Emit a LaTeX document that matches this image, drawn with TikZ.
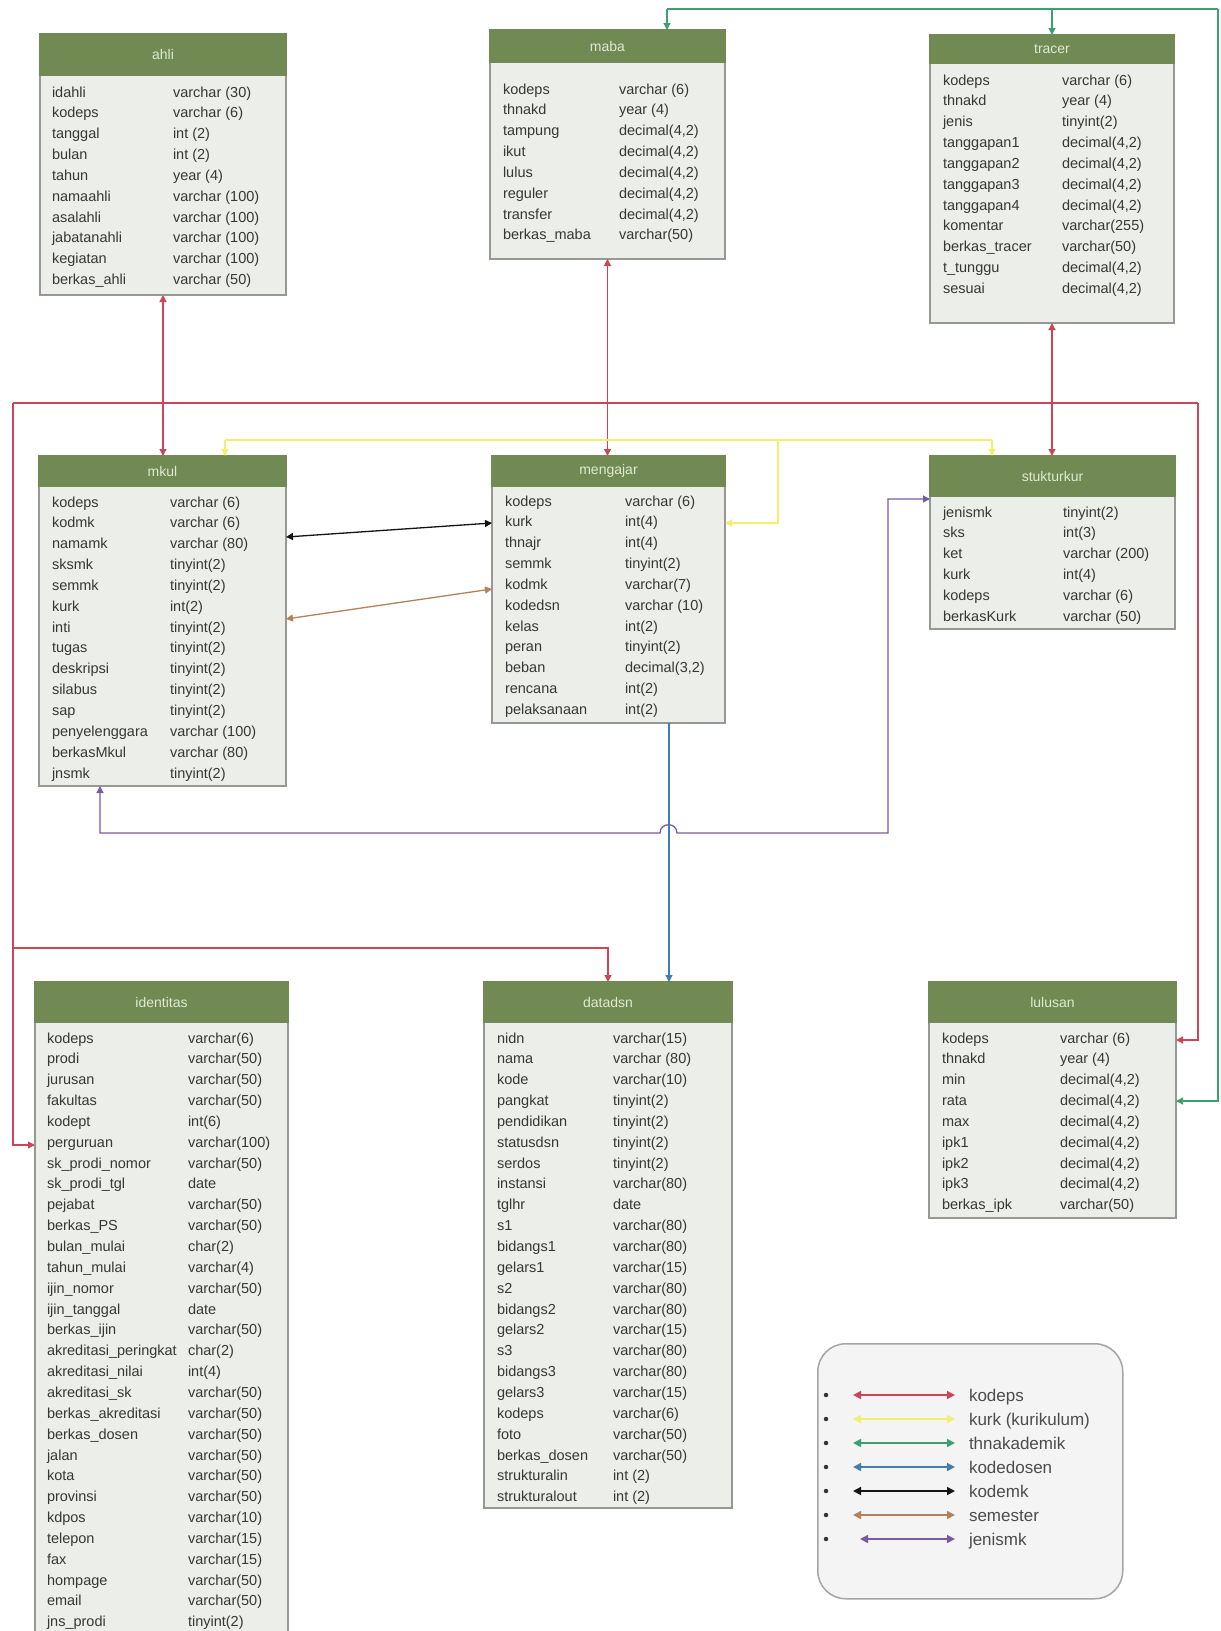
\documentclass[tikz,border=0pt]{standalone}
\usepackage{fontspec}
\setmainfont{Liberation Sans}
\usetikzlibrary{arrows.meta,calc}
\definecolor{hdr}{RGB}{113,137,83}
\definecolor{hdrtext}{RGB}{222,234,210}
\definecolor{tblfill}{RGB}{236,238,234}
\definecolor{tblborder}{RGB}{150,152,148}
\definecolor{fldtext}{RGB}{55,55,55}
\definecolor{cRed}{RGB}{205,70,85}
\definecolor{cYel}{RGB}{242,238,110}
\definecolor{cGrn}{RGB}{60,160,115}
\definecolor{cBlu}{RGB}{65,125,175}
\definecolor{cBlk}{RGB}{20,20,20}
\definecolor{cBrn}{RGB}{180,130,90}
\definecolor{cPur}{RGB}{120,90,165}
\definecolor{legfill}{RGB}{244,244,244}
\definecolor{legline}{RGB}{165,165,165}
\tikzset{
  tblbody/.style={draw=tblborder, fill=tblfill, line width=1.2pt, inner sep=0pt, outer sep=0pt},
  tblhead/.style={fill=hdr, draw=hdr, line width=1.2pt, text=hdrtext, inner sep=0pt, outer sep=0pt, font=\fontsize{14}{16}\selectfont},
  fld/.style={inner sep=0pt, outer sep=0pt, text=fldtext, font=\fontsize{14.5}{17}\selectfont},
  conn/.style={line width=1.3pt, >={Triangle[length=7pt,width=7pt]}},
  legarrow/.style={line width=1.6pt, {Triangle[length=8pt,width=8pt]}-{Triangle[length=8pt,width=8pt]}},
  legtxt/.style={inner sep=0pt, outer sep=0pt, text=black!70, font=\fontsize{17}{20}\selectfont},
}
% #1 name, #2 x, #3 y, #4 width, #5 header height, #6 total height, #7 title
\newcommand\erTable[7]{%
  \node[tblbody, minimum width=#4pt, minimum height=#6pt, anchor=north west] (#1) at (#2,#3) {};
  \node[tblhead, minimum width=#4pt, minimum height=#5pt, anchor=north west] (#1-h) at (#2,#3) {#7};
}
% #1 name, #2 name x, #3 first baseline y, #4 type x, #5 list
\newcommand\erRows[5]{%
  \foreach \a/\b [count=\i] in {#5} {
    \node[fld, anchor=base west] (#1-n\i) at ({#2},{#3+(\i-1)*20.85}) {\a};
    \node[fld, anchor=base west] (#1-t\i) at ({#4},{#3+(\i-1)*20.85}) {\b};
  }%
}
\begin{document}
\begin{tikzpicture}[x=1pt, y=-1pt]
\useasboundingbox[fill=white] (0,0) rectangle (1221,1631);

% ---------- tables ----------
\erTable{ahli}{40}{34}{246}{41}{261}{ahli}
\erRows{ahli}{52}{97}{173}{idahli/varchar (30), kodeps/varchar (6), tanggal/int (2), bulan/int (2), tahun/year (4), namaahli/varchar (100), asalahli/varchar (100), jabatanahli/varchar (100), kegiatan/varchar (100), berkas\_ahli/varchar (50)}

\erTable{maba}{490}{30}{235}{32}{229}{maba}
\erRows{maba}{503}{94}{619}{kodeps/varchar (6), thnakd/year (4), tampung/{decimal(4,2)}, ikut/{decimal(4,2)}, lulus/{decimal(4,2)}, reguler/{decimal(4,2)}, transfer/{decimal(4,2)}, berkas\_maba/varchar(50)}

\erTable{tracer}{930}{35}{244}{28}{288}{tracer}
\erRows{tracer}{943}{85}{1062}{kodeps/varchar (6), thnakd/year (4), jenis/tinyint(2), tanggapan1/{decimal(4,2)}, tanggapan2/{decimal(4,2)}, tanggapan3/{decimal(4,2)}, tanggapan4/{decimal(4,2)}, komentar/varchar(255), berkas\_tracer/varchar(50), t\_tunggu/{decimal(4,2)}, sesuai/{decimal(4,2)}}

\erTable{mkul}{39}{456}{247}{30}{330}{mkul}
\erRows{mkul}{52}{507}{170}{kodeps/varchar (6), kodmk/varchar (6), namamk/varchar (80), sksmk/tinyint(2), semmk/tinyint(2), kurk/int(2), inti/tinyint(2), tugas/tinyint(2), deskripsi/tinyint(2), silabus/tinyint(2), sap/tinyint(2), penyelenggara/varchar (100), berkasMkul/varchar (80), jnsmk/tinyint(2)}

\erTable{mengajar}{492}{456}{233}{30}{267}{mengajar}
\erRows{mengajar}{505}{506}{625}{kodeps/varchar (6), kurk/int(4), thnajr/int(4), semmk/tinyint(2), kodmk/varchar(7), kodedsn/varchar (10), kelas/int(2), peran/tinyint(2), beban/{decimal(3,2)}, rencana/int(2), pelaksanaan/int(2)}

\erTable{stuk}{930}{456}{245}{40}{173}{stukturkur}
\erRows{stuk}{943}{517}{1063}{jenismk/tinyint(2), sks/int(3), ket/varchar (200), kurk/int(4), kodeps/varchar (6), berkasKurk/varchar (50)}

\erTable{identitas}{35}{982}{253}{40}{670}{identitas}
\erRows{identitas}{47}{1043}{188}{kodeps/varchar(6), prodi/varchar(50), jurusan/varchar(50), fakultas/varchar(50), kodept/int(6), perguruan/varchar(100), sk\_prodi\_nomor/varchar(50), sk\_prodi\_tgl/date, pejabat/varchar(50), berkas\_PS/varchar(50), bulan\_mulai/char(2), tahun\_mulai/varchar(4), ijin\_nomor/varchar(50), ijin\_tanggal/date, berkas\_ijin/varchar(50), akreditasi\_peringkat/char(2), akreditasi\_nilai/int(4), akreditasi\_sk/varchar(50), berkas\_akreditasi/varchar(50), berkas\_dosen/varchar(50), jalan/varchar(50), kota/varchar(50), provinsi/varchar(50), kdpos/varchar(10), telepon/varchar(15), fax/varchar(15), hompage/varchar(50), email/varchar(50), jns\_prodi/tinyint(2)}

\erTable{datadsn}{484}{982}{248}{40}{526}{datadsn}
\erRows{datadsn}{497}{1043}{613}{nidn/varchar(15), nama/varchar (80), kode/varchar(10), pangkat/tinyint(2), pendidikan/tinyint(2), statusdsn/tinyint(2), serdos/tinyint(2), instansi/varchar(80), tglhr/date, s1/varchar(80), bidangs1/varchar(80), gelars1/varchar(15), s2/varchar(80), bidangs2/varchar(80), gelars2/varchar(15), s3/varchar(80), bidangs3/varchar(80), gelars3/varchar(15), kodeps/varchar(6), foto/varchar(50), berkas\_dosen/varchar(50), strukturalin/int (2), strukturalout/int (2)}

\erTable{lulusan}{929}{982}{247}{40}{236}{lulusan}
\erRows{lulusan}{942}{1043}{1060}{kodeps/varchar (6), thnakd/year (4), min/{decimal(4,2)}, rata/{decimal(4,2)}, max/{decimal(4,2)}, ipk1/{decimal(4,2)}, ipk2/{decimal(4,2)}, ipk3/{decimal(4,2)}, berkas\_ipk/varchar(50)}

% ---------- red (kodeps) ----------
\coordinate (rTL) at (13,403);
\coordinate (rTR) at (1198,403);
\draw[conn, cRed, <->] (ahli.south) -- (ahli.south |- mkul.north);
\draw[conn, cRed, <->] (maba.south) -- (maba.south |- mengajar.north);
\draw[conn, cRed, <->] (tracer.south) -- (tracer.south |- stuk.north);
\draw[conn, cRed] (rTL) -- (rTR);
\draw[conn, cRed, ->] (rTL) |- ($(identitas.north west)+(0,163)$);
\draw[conn, cRed, ->] ($(rTL)+(0,545)$) -| ($(datadsn.north west)+(124,0)$);
\draw[conn, cRed, ->] (rTR) |- ($(lulusan.north east)+(0,58)$);

% ---------- green (thnakademik) ----------
\coordinate (gL) at (667,9);
\coordinate (gR) at (1218,9);
\draw[conn, cGrn, ->] (gL) -- ($(maba.north west)+(177,0)$);
\draw[conn, cGrn] (gL) -- (gR);
\draw[conn, cGrn, ->] (tracer.north |- gL) -- (tracer.north);
\draw[conn, cGrn, ->] (gR) |- ($(lulusan.north east)+(0,119)$);

% ---------- yellow (kurk) ----------
\coordinate (yL) at (225,440);
\coordinate (yR) at (992,440);
\coordinate (yM) at (778,440);
\draw[conn, cYel, ->] (yL) -- (yL |- mkul.north);
\draw[conn, cYel] (yL) -- (yR);
\draw[conn, cYel, ->] (yR) -- (yR |- stuk.north);
\draw[conn, cYel, ->] (yM) |- ($(mengajar.north east)+(0,67)$);

% ---------- black (kodemk) and brown (semester) ----------
\draw[conn, cBlk, <->] ($(mkul.north east)+(0,81)$) -- ($(mengajar.north west)+(0,67)$);
\draw[conn, cBrn, <->] ($(mkul.north east)+(0,163)$) -- ($(mengajar.north west)+(0,133)$);

% ---------- blue (kodedosen) ----------
\draw[conn, cBlu, ->] ($(mengajar.south west)+(177,0)$) -- ($(datadsn.north west)+(185,0)$);

% ---------- purple (jenismk) ----------
\coordinate (p1) at (100,833);
\coordinate (p2) at (888,833);
\draw[conn, cPur, <->] ($(mkul.south west)+(61,0)$) -- (p1) -- (660,833)
  .. controls (660,822) and (677,822) .. (677,833) -- (p2) |- ($(stuk.north west)+(0,43)$);

% ---------- legend ----------
\node[draw=legline, fill=legfill, rounded corners=28pt, line width=1.5pt,
      minimum width=305pt, minimum height=255pt, anchor=north west, inner sep=0pt] (legend) at (817,1343) {};
\foreach \c/\t/\s [count=\i] in {cRed/kodeps/853, cYel/kurk (kurikulum)/853, cGrn/thnakademik/853, cBlu/kodedosen/853, cBlk/kodemk/853, cBrn/semester/853, cPur/jenismk/860} {
  \node[circle, fill=black!80, inner sep=0pt, minimum size=4.5pt] (lb\i) at (826,{1395+(\i-1)*24}) {};
  \coordinate (la\i) at (\s,{1395+(\i-1)*24});
  \coordinate (lz\i) at (955,{1395+(\i-1)*24});
  \draw[legarrow, \c] (la\i) -- (lz\i);
  \node[legtxt, anchor=base west] (lt\i) at (969,{1395+(\i-1)*24+6}) {\t};
}
\end{tikzpicture}
\end{document}
